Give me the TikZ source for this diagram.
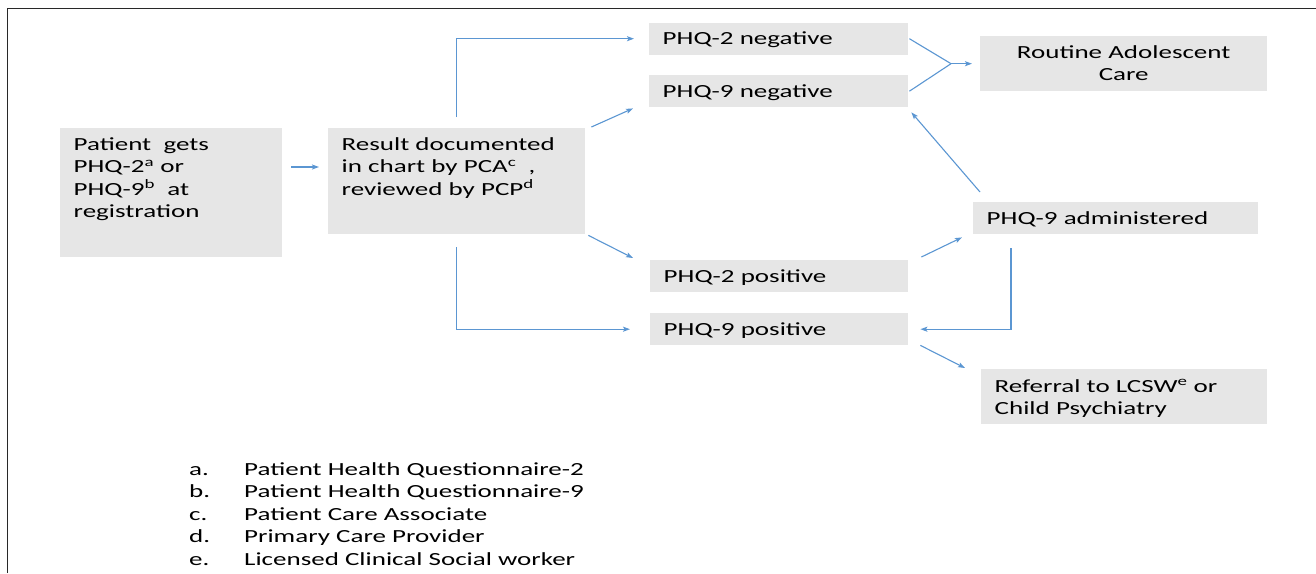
\documentclass[tikz,border=0pt]{standalone}
\usepackage{fontspec}
\setmainfont{Carlito}[FakeStretch=1.46]
\usetikzlibrary{arrows.meta}
\definecolor{boxgray}{RGB}{230,230,230}
\definecolor{arrowblue}{RGB}{91,150,210}
\definecolor{framegray}{RGB}{40,40,40}
\begin{document}
\begin{tikzpicture}[x=1pt,y=-1pt,
  gbox/.style={fill=boxgray, draw=none, anchor=north west, inner xsep=13.5pt, inner ysep=0pt,
    align=left, text height=22pt, text depth=10pt, font=\fontsize{18.5}{22.5}\selectfont},
  link/.style={draw=arrowblue, line width=1.1pt},
  arr/.style={link, -{Stealth[length=7pt,width=5pt,inset=1.5pt]}},
  frameline/.style={draw=framegray, line width=1.4pt}]
\useasboundingbox (0,0) rectangle (1316,573);
% frame
\draw[frameline] (7.5,573) -- (7.5,8.5) -- (1316,8.5);
% boxes
\node[gbox, text width=195pt, text depth=107pt] (b1) at (60,128)
  {Patient\ \ gets\\ PHQ-2\textsuperscript{a} or\\ PHQ-9\textsuperscript{b}\ \ at\\ registration};
\node[gbox, text width=230pt, text depth=84pt] (b2) at (328,128)
  {Result documented\\ in chart by PCA\textsuperscript{c}\ \ ,\\ reviewed by PCP\textsuperscript{d}};
\node[gbox, text width=232pt] (n2) at (649,22.5) {PHQ-2 negative};
\node[gbox, text width=232pt] (n9) at (649,75) {PHQ-9 negative};
\node[gbox, text width=260pt, align=center, text depth=33pt] (rac) at (980,36) {Routine Adolescent\\ Care};
\node[gbox, text width=258pt] (adm) at (973,202) {PHQ-9 administered};
\node[gbox, text width=231pt] (p2) at (650,260) {PHQ-2 positive};
\node[gbox, text width=231pt] (p9) at (650,313) {PHQ-9 positive};
\node[gbox, text width=259pt, text height=23pt, text depth=32pt] (ref) at (981,369)
  {Referral to LCSW\textsuperscript{e} or\\ Child Psychiatry};
% legend
\node[anchor=base west, inner sep=0pt, font=\fontsize{18.5}{22.5}\selectfont] (legend) at (189,475)
  {\begin{tabular}[t]{@{}p{55pt}@{}l@{}}
   a. & Patient Health Questionnaire-2\\
   b. & Patient Health Questionnaire-9\\
   c. & Patient Care Associate\\
   d. & Primary Care Provider\\
   e. & Licensed Clinical Social worker
   \end{tabular}};
% connectors
\draw[arr] ([shift={(9,39)}]b1.north east) -- ([shift={(-9,39)}]b2.north west);
\draw[arr] ([shift={(0,-11)}]b2.north) |- ([xshift=-15pt]n2.west);
\draw[arr] ([shift={(6,-1)}]b2.north east) -- ([shift={(-16,1)}]n9.south west);
\draw[arr] ([shift={(3,1)}]b2.south east) -- ([shift={(-17,-2)}]p2.north west);
\draw[arr] ([shift={(0,13)}]b2.south) |- ([xshift=-20pt]p9.west);
\coordinate (m) at ([xshift=-29pt]rac.west);
\draw[link] ([xshift=1pt]n2.east) -- (m);
\draw[link] ([xshift=1pt]n9.east) -- (m);
\draw[arr] (m) -- ([xshift=-8pt]rac.west);
\draw[arr] ([shift={(7,-10)}]adm.north west) -- ([shift={(3,5)}]n9.south east);
\draw[arr] ([shift={(13,-3)}]p2.north east) -- ([shift={(-11,3)}]adm.south west);
\draw[arr] ([shift={(38,14)}]adm.south west) |- ([xshift=12pt]p9.east);
\draw[arr] ([shift={(12,0)}]p9.south east) -- ([shift={(-16,-1)}]ref.north west);
\end{tikzpicture}
\end{document}
